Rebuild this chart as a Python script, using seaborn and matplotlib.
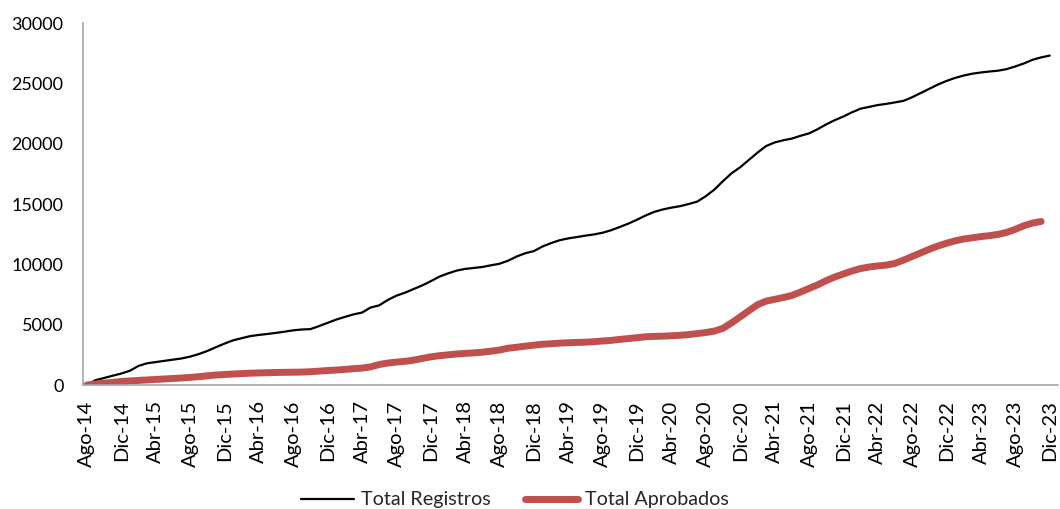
import numpy as np
import pandas as pd
import seaborn as sns
import matplotlib.pyplot as plt

# monthly cumulative values, Ago-14 .. Dic-23
total_registros = [
    0, 400, 580, 770, 950, 1180, 1580, 1800, 1900, 2000, 2100, 2200,
    2350, 2560, 2820, 3130, 3430, 3700, 3880, 4050, 4150, 4230, 4320, 4420,
    4530, 4600, 4630, 4880, 5150, 5420, 5640, 5850, 6000, 6420, 6600, 7050,
    7400, 7650, 7950, 8250, 8600, 8980, 9250, 9480, 9620, 9700, 9780, 9920,
    10050, 10300, 10650, 10920, 11100, 11480, 11760, 12000, 12150, 12260, 12380, 12480,
    12620, 12830, 13100, 13380, 13700, 14050, 14350, 14550, 14700, 14820, 15000, 15200,
    15650, 16200, 16900, 17550, 18050, 18650, 19250, 19800, 20100, 20280, 20420, 20650,
    20850, 21200, 21600, 21950, 22250, 22600, 22900, 23050, 23200, 23300, 23420, 23550,
    23850, 24200, 24550, 24900, 25200, 25450, 25650, 25800, 25900, 25980, 26050, 26180,
    26400, 26650, 26950, 27150, 27300,
]
total_aprobados = [
    0, 80, 150, 220, 290, 340, 380, 420, 460, 500, 540, 580,
    630, 690, 760, 830, 870, 910, 950, 980, 1000, 1020, 1040, 1050,
    1060, 1070, 1100, 1150, 1200, 1240, 1290, 1350, 1400, 1500, 1700, 1820,
    1900, 1960, 2060, 2200, 2330, 2430, 2500, 2570, 2620, 2660, 2720, 2800,
    2900, 3050, 3130, 3220, 3300, 3380, 3420, 3470, 3500, 3530, 3550, 3590,
    3650, 3700, 3780, 3850, 3920, 4000, 4030, 4050, 4080, 4120, 4180, 4260,
    4350, 4470, 4700, 5150, 5650, 6150, 6650, 6950, 7100, 7250, 7420, 7700,
    8000, 8300, 8650, 8950, 9200, 9450, 9650, 9780, 9870, 9940, 10080, 10350,
    10650, 10950, 11250, 11520, 11750, 11950, 12100, 12200, 12300, 12380, 12480, 12650,
    12900, 13200, 13420, 13550, np.nan,
]
tick_labels = [
    "Ago-14", "Dic-14", "Abr-15", "Ago-15", "Dic-15", "Abr-16", "Ago-16", "Dic-16",
    "Abr-17", "Ago-17", "Dic-17", "Abr-18", "Ago-18", "Dic-18", "Abr-19", "Ago-19",
    "Dic-19", "Abr-20", "Ago-20", "Dic-20", "Abr-21", "Ago-21", "Dic-21", "Abr-22",
    "Ago-22", "Dic-22", "Abr-23", "Ago-23", "Dic-23",
]

df = pd.DataFrame({
    "mes": np.arange(len(total_registros)),
    "Total Registros": total_registros,
    "Total Aprobados": total_aprobados,
})

sns.set_style("white")
plt.rcParams["font.family"] = ["Lato", "DejaVu Sans"]

fig = plt.figure(figsize=(10.6, 5.09), dpi=100)
ax = fig.add_axes([0.0783, 0.2436, 0.9197, 0.7112])

sns.lineplot(data=df, x="mes", y="Total Registros", color="black", linewidth=1.6,
             label="Total Registros", ax=ax)
sns.lineplot(data=df, x="mes", y="Total Aprobados", color="#C0504D", linewidth=5,
             label="Total Aprobados", ax=ax, solid_capstyle="round")

ax.set_xlim(-0.45, 112.95)
ax.set_ylim(0, 30000)
ax.set_yticks(range(0, 30001, 5000))
ax.set_xticks(range(0, len(total_registros), 4))
ax.set_xticklabels(tick_labels, rotation=90)
ax.set_xlabel("")
ax.set_ylabel("")
ax.tick_params(axis="y", length=0, pad=14, labelsize=13, labelcolor="black")
ax.tick_params(axis="x", length=0, pad=11, labelsize=14.5, labelcolor="black")

for side in ["top", "right"]:
    ax.spines[side].set_visible(False)
for side in ["left", "bottom"]:
    ax.spines[side].set_color("#A6A6A6")
    ax.spines[side].set_linewidth(1.2)

ax.legend(loc="lower center", bbox_to_anchor=(0.443, -0.39), ncol=2, frameon=False,
          fontsize=14.2, handlelength=2.7, columnspacing=1.7, handletextpad=0.35)

fig.savefig("out.png", dpi=100)
